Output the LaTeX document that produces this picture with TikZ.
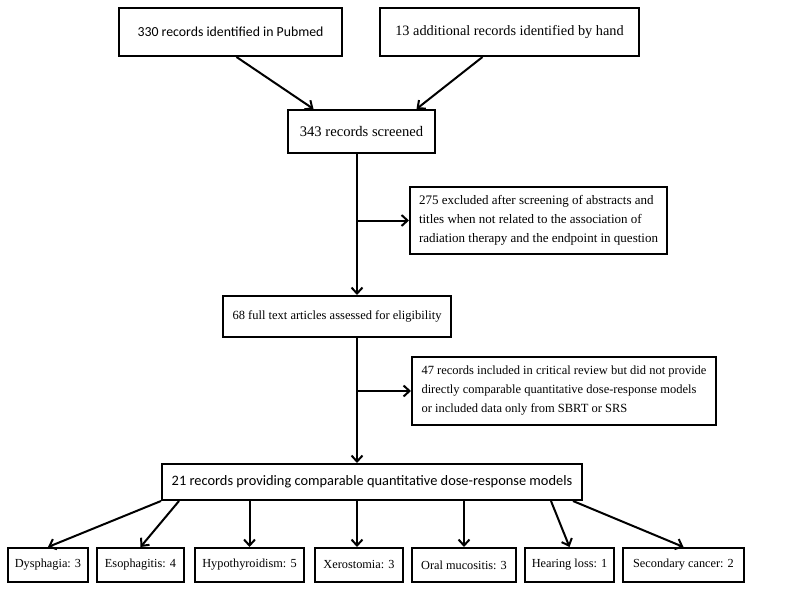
\documentclass[tikz,border=0pt]{standalone}
\usepackage{fontspec}
\setmainfont{Liberation Serif}
\newfontfamily\calib{Carlito}
\usetikzlibrary{arrows.meta}

\begin{document}
\begin{tikzpicture}[x=1pt, y=-1pt,
    box/.style={rectangle, draw, line width=2pt, inner sep=0pt, font=\fontsize{12.5}{19}\selectfont},
    leaf/.style={box, minimum height=34pt, font=\fontsize{12.3}{14}\selectfont},
    arr/.style={line width=2pt, -{Straight Barb[length=6pt, width=11pt, line width=2pt]}}]
  \useasboundingbox (0,0) rectangle (800,591);

  \node (pubmed) [box, minimum width=223pt, minimum height=48pt, font=\calib\fontsize{13.8}{19}\selectfont] at (230.5, 32) {330 records identified in Pubmed};
  \node (hand) [box, minimum width=259pt, minimum height=48pt, font=\fontsize{14.3}{19}\selectfont] at (509.5, 32) {13 additional records identified by hand};
  \node (screened) [box, minimum width=147pt, minimum height=43pt, font=\fontsize{14.6}{19}\selectfont] at (361.5, 131.5) {343 records screened};
  \node (excl-abstract) [box, minimum width=257pt, minimum height=67pt, align=left, font=\fontsize{13}{19}\selectfont] at (538.5, 220.5) {275 excluded after screening of abstracts and\\titles when not related to the association of\\radiation therapy and the endpoint in question};
  \node (fulltext) [box, minimum width=228pt, minimum height=41pt] at (337, 316.5) {68 full text articles assessed for eligibility};
  \node (excl-review) [box, minimum width=304pt, minimum height=68pt, align=left] at (564, 391) {47 records included in critical review but did not provide\\directly comparable quantitative dose-response models\\or included data only from SBRT or SRS};
  \node (models) [box, minimum width=420pt, minimum height=36pt, font=\calib\fontsize{14.4}{19}\selectfont] at (372, 482) {21 records providing comparable quantitative dose-response models};

  \node (dysphagia) [leaf, minimum width=80pt] at (48, 565) {Dysphagia: 3};
  \node (esophagitis) [leaf, minimum width=87pt] at (140.5, 565) {Esophagitis: 4};
  \node (hypothyroidism) [leaf, minimum width=109pt] at (249.5, 565) {Hypothyroidism: 5};
  \node (xerostomia) [leaf, minimum width=88pt] at (359, 565) {Xerostomia: 3};
  \node (mucositis) [leaf, minimum width=104pt] at (464, 565) {Oral mucositis: 3};
  \node (hearing) [leaf, minimum width=89pt] at (569.5, 565) {Hearing loss: 1};
  \node (cancer) [leaf, minimum width=121pt] at (683.5, 565) {Secondary cancer: 2};

  \coordinate (trunk) at (357, 0);

  \draw[arr] ([xshift=6pt]pubmed.south) -- ([xshift=-48pt]screened.north);
  \draw[arr] ([xshift=-27pt]hand.south) -- ([xshift=55pt]screened.north);
  \draw[arr] (screened.south -| trunk) -- (fulltext.north -| trunk);
  \draw[arr] (trunk |- excl-abstract.west) -- (excl-abstract.west);
  \draw[arr] (fulltext.south -| trunk) -- (models.north -| trunk);
  \draw[arr] (trunk |- excl-review.west) -- (excl-review.west);

  \draw[arr] (models.south west) -- (dysphagia.north);
  \draw[arr] ([xshift=18pt]models.south west) -- (esophagitis.north);
  \draw[arr] (models.south -| hypothyroidism) -- (hypothyroidism.north);
  \draw[arr] (models.south -| trunk) -- (xerostomia.north -| trunk);
  \draw[arr] (models.south -| mucositis) -- (mucositis.north);
  \draw[arr] ([xshift=-32pt]models.south east) -- (hearing.north);
  \draw[arr] ([xshift=-10pt]models.south east) -- (cancer.north);
\end{tikzpicture}
\end{document}
